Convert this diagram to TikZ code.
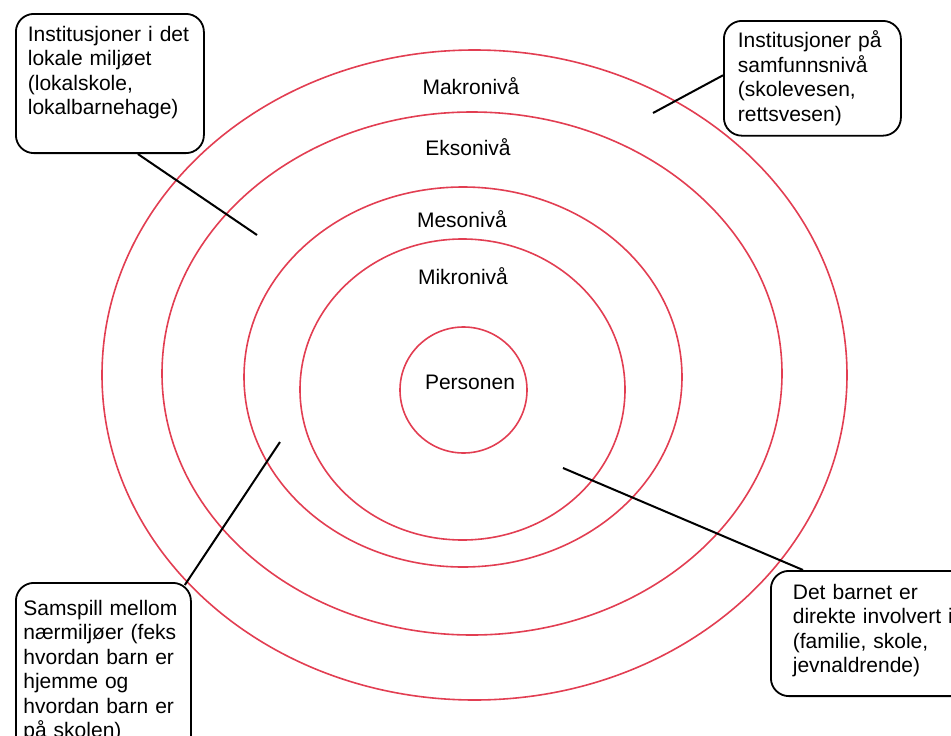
\documentclass[tikz,border=0pt]{standalone}
\usepackage{fontspec}
\setmainfont{Liberation Sans}
\definecolor{ringred}{RGB}{226,62,82}
\def\boxfont{\fontsize{21}{24.5}\selectfont}
\def\lvlfont{\fontsize{21}{24}\selectfont}
\tikzset{
  level ring/.style={draw=ringred, line width=1.6pt},
  levelname/.style={font=\lvlfont, text height=15pt, text depth=0pt},
  infobox/.style={draw, rounded corners=18pt, line width=1.8pt,
    anchor=north west, align=left, font=\boxfont},
  pointer/.style={line width=2pt}}

\begin{document}
\begin{tikzpicture}[x=1pt, y=-1pt]
  \useasboundingbox (0,0) rectangle (951,736);
  \clip (0,0) rectangle (951,736);
  % the five levels
  \draw[level ring] (474.5,375) ellipse [x radius=372.5pt, y radius=325pt];
  \draw[level ring] (472,373.5) ellipse [x radius=310pt, y radius=261.5pt];
  \draw[level ring] (463,377) ellipse [x radius=219pt, y radius=190pt];
  \draw[level ring] (462.5,389.5) ellipse [x radius=162.5pt, y radius=150.5pt];
  \draw[level ring] (463.5,390) ellipse [x radius=63.5pt, y radius=63pt];
  \node[levelname] (makro)  at (471,87)  {Makronivå};
  \node[levelname] (ekso)   at (468,148) {Eksonivå};
  \node[levelname] (meso)   at (462,220) {Mesonivå};
  \node[levelname] (mikro)  at (463,277) {Mikronivå};
  \node[levelname] (person) at (470,382) {Personen};
  % explanations
  \node[infobox, text width=164pt, inner xsep=12pt, inner ysep=12pt, text depth=100pt]
    (lokal) at (15,13) {Institusjoner i det\\ lokale miljøet\\ (lokalskole,\\ lokalbarnehage)};
  \node[infobox, text width=149pt, inner xsep=14pt, inner ysep=10pt]
    (samfunn) at (723,20) {Institusjoner på\\ samfunnsnivå\\ (skolevesen,\\ rettsvesen)};
  \node[infobox, text width=160pt, inner xsep=7.5pt, inner ysep=17pt]
    (samspill) at (15,582) {Samspill mellom\\ nærmiljøer (feks\\ hvordan barn er\\ hjemme og\\ hvordan barn er\\ på skolen)};
  \node[infobox, text width=190pt, inner xsep=22pt, inner ysep=13pt, text depth=84pt]
    (direkte) at (770,570) {Det barnet er\\ direkte involvert i\\ (familie, skole,\\ jevnaldrende)};
  \coordinate (lokal end)    at (257,235);
  \coordinate (samfunn end)  at (653,113);
  \coordinate (samspill end) at (280,442);
  \coordinate (direkte end)  at (563,468);
  \draw[pointer] ([xshift=28pt]lokal.south) -- (lokal end);
  \draw[pointer] ([yshift=3pt]samfunn.west) -- (samfunn end);
  \draw[pointer] ([shift={(-7pt,-3pt)}]samspill.north east) -- (samspill end);
  \draw[pointer] ([xshift=33pt]direkte.north west) -- (direkte end);
\end{tikzpicture}
\end{document}
